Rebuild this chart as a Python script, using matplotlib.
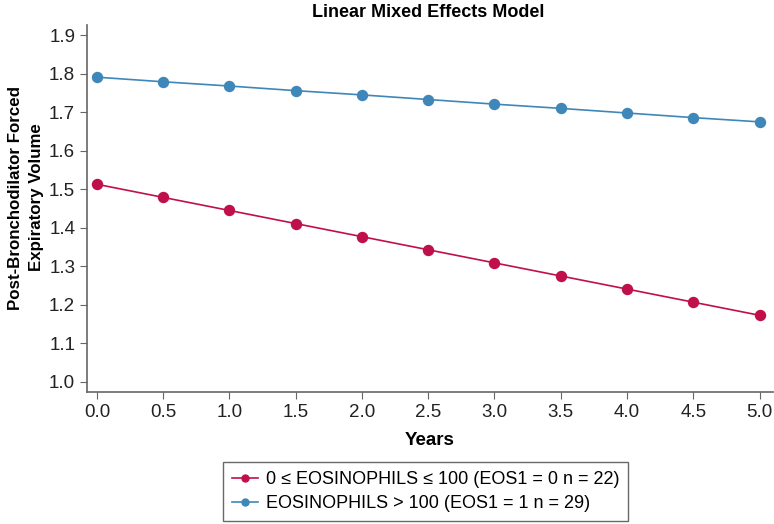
import matplotlib.pyplot as plt
import numpy as np

plt.rcParams['font.family'] = ['Liberation Sans', 'DejaVu Sans']

years = [0.0, 0.5, 1.0, 1.5, 2.0, 2.5, 3.0, 3.5, 4.0, 4.5, 5.0]
eos_low = [1.513, 1.479, 1.445, 1.411, 1.377, 1.343, 1.309, 1.275, 1.241, 1.207, 1.173]
eos_high = [1.791, 1.779, 1.768, 1.756, 1.745, 1.733, 1.721, 1.710, 1.698, 1.686, 1.675]
labels = ['0 \u2264 EOSINOPHILS \u2264 100 (EOS1 = 0 n = 22)',
          'EOSINOPHILS > 100 (EOS1 = 1 n = 29)']
xticks = [0.0, 0.5, 1.0, 1.5, 2.0, 2.5, 3.0, 3.5, 4.0, 4.5, 5.0]
yticks = [1.0, 1.1, 1.2, 1.3, 1.4, 1.5, 1.6, 1.7, 1.8, 1.9]

red = '#c0104a'
blue = '#3f87b8'

fig = plt.figure(figsize=(7.74, 5.24), dpi=100)
ax = fig.add_axes([0.1124, 0.252, 0.886, 0.70])

ax.plot(years, eos_low, color=red, lw=1.2, marker='o', ms=7.2, label=labels[0])
ax.plot(years, eos_high, color=blue, lw=1.2, marker='o', ms=7.2, label=labels[1])

ax.set_xlim(-0.075, 5.1)
ax.set_ylim(0.974, 1.926)
ax.set_xticks(xticks)
ax.set_xticklabels(['%.1f' % v for v in xticks])
ax.set_yticks(yticks)
ax.set_yticklabels(['%.1f' % v for v in yticks])

for s in ['top', 'right']:
    ax.spines[s].set_visible(False)
for s in ['left', 'bottom']:
    ax.spines[s].set_color('#666666')
    ax.spines[s].set_linewidth(1.2)
ax.tick_params(direction='out', length=5, color='#666666', labelsize=13.5, labelcolor='#222222')

ax.set_title('Linear Mixed Effects Model', fontsize=13, fontweight='bold', pad=6, x=0.497)
ax.set_xlabel('Years', fontsize=13.5, fontweight='bold', labelpad=8)
ax.set_ylabel('Post-Bronchodilator Forced\nExpiratory Volume', fontsize=12.2, fontweight='bold',
              linespacing=1.5)
ax.yaxis.set_label_coords(-0.063, 0.53)

leg = ax.legend(loc='upper center', bbox_to_anchor=(0.494, -0.176), fontsize=13, frameon=True,
                fancybox=False, edgecolor='#444444', handlelength=1.4, handletextpad=0.45,
                borderpad=0.5, borderaxespad=0.3, labelspacing=0.4)
leg.get_frame().set_linewidth(1.0)
for h in leg.legend_handles:
    h.set_markersize(5)

fig.savefig('out.png', dpi=100)
